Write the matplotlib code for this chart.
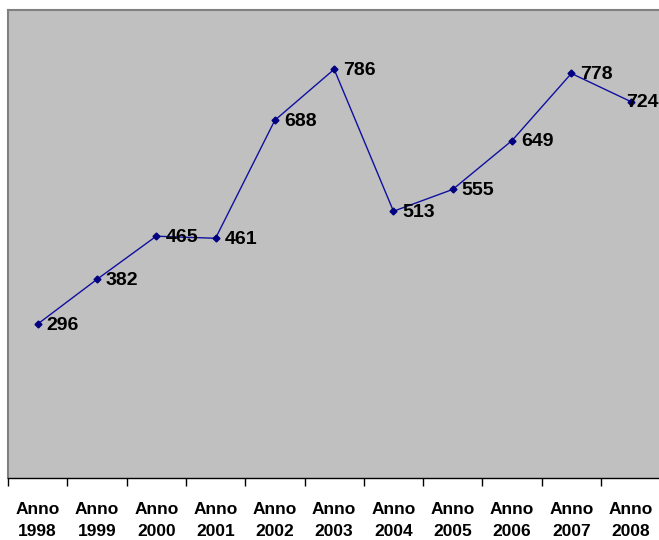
import matplotlib
matplotlib.use("Agg")
import matplotlib.pyplot as plt
from matplotlib.ticker import FixedLocator

years = ["1998", "1999", "2000", "2001", "2002", "2003", "2004", "2005", "2006", "2007", "2008"]
values = [296, 382, 465, 461, 688, 786, 513, 555, 649, 778, 724]
tick_labels = [f"Anno\n{y}" for y in years]

plt.rcParams["font.family"] = ["Liberation Sans", "DejaVu Sans"]

W, H = 659, 540
fig = plt.figure(figsize=(W / 100, H / 100), dpi=100)
ax = fig.add_axes([8 / W, 62 / H, (W - 8) / W + 0.002, (478 - 10) / H])
ax.set_facecolor("#C0C0C0")

x = list(range(len(values)))
ax.plot(x, values, color="#1010A0", lw=1.0, marker="D", ms=3.5,
        mfc="#000080", mec="#000080", zorder=3)

for i, v in enumerate(values):
    dx = 9 if i < len(values) - 1 else -5
    ax.annotate(str(v), (i, v), xytext=(dx, -1), textcoords="offset pixels",
                ha="left", va="center", fontsize=14, fontweight="bold",
                color="black", zorder=4)

ax.set_xlim(-0.5, len(values) - 0.5)
ax.set_ylim(0, 900)
ax.set_yticks([])

ax.xaxis.set_major_locator(FixedLocator(x))
ax.set_xticklabels(tick_labels, fontsize=12.5, fontweight="bold", linespacing=1.65)
ax.xaxis.set_minor_locator(FixedLocator([i - 0.5 for i in range(len(values) + 1)]))
ax.tick_params(axis="x", which="major", length=0, pad=17)
ax.tick_params(axis="x", which="minor", length=6, width=1, color="black", direction="out")

for side in ("left", "top"):
    ax.spines[side].set_color("#808080")
    ax.spines[side].set_linewidth(1.5)
ax.spines["right"].set_visible(False)
ax.spines["bottom"].set_color("black")
ax.spines["bottom"].set_linewidth(1.0)

fig.savefig("out.png", dpi=100, facecolor="white")
